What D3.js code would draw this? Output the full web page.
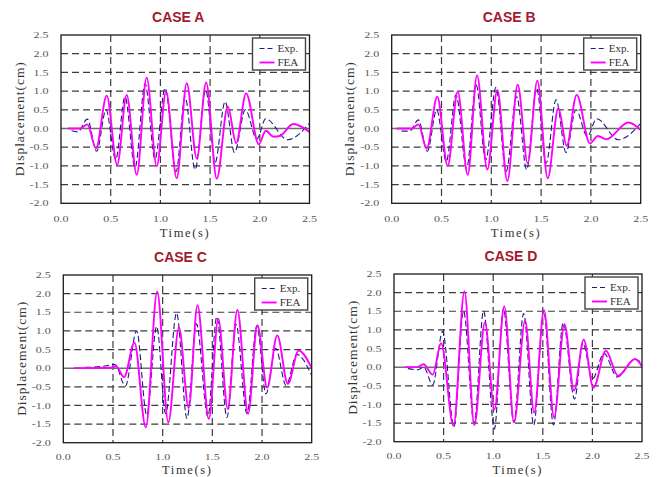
<!DOCTYPE html>
<html>
<head>
<meta charset="utf-8">
<script src="https://cdn.jsdelivr.net/npm/d3@7"></script>
<style>
  html, body { margin: 0; padding: 0; background: #fff; }
  svg { display: block; }
</style>
</head>
<body>
<svg id="chart" width="659" height="477"></svg>
<script>
// ---------------- DATA ----------------
const caseNames = ["CASE A", "CASE B", "CASE C", "CASE D"];
const seriesNames = ["Exp.", "FEA"];
const xTicks = [0.0, 0.5, 1.0, 1.5, 2.0, 2.5];
const yTicks = [2.5, 2.0, 1.5, 1.0, 0.5, 0.0, -0.5, -1.0, -1.5, -2.0];

// [time (s), displacement (cm)]
const expA = [[0.107,-0.06],[0.17,-0.09],[0.265,0.25],[0.359,-0.61],[0.453,0.5],[0.55,-0.83],[0.644,0.85],[0.745,-1.05],[0.846,1.2],[0.946,-0.82],[1.047,1.08],[1.158,-1.15],[1.248,0.85],[1.349,-1.1],[1.456,1.03],[1.55,-0.91],[1.651,0.72],[1.745,-0.64],[1.855,0.5],[1.97,-0.28],[2.06,0.26],[2.28,-0.3],[2.5,0.14]];
const feaA = [[0.07,0],[0.19,0],[0.265,0.11],[0.352,-0.53],[0.46,0.88],[0.565,-0.97],[0.661,0.9],[0.762,-1.24],[0.862,1.36],[0.963,-1.01],[1.057,0.99],[1.164,-1.33],[1.265,1.21],[1.366,-0.8],[1.46,1.23],[1.567,-1.34],[1.678,0.59],[1.762,-0.39],[1.862,0.94],[1.99,-0.42],[2.06,-0.06],[2.136,-0.22],[2.2,-0.2],[2.337,0.12],[2.5,-0.09]];
const expB = [[0.1,-0.07],[0.18,-0.07],[0.268,0.23],[0.358,-0.61],[0.452,0.5],[0.548,-0.88],[0.645,0.9],[0.753,-1.06],[0.847,1.17],[0.944,-0.84],[1.047,1.1],[1.148,-1.15],[1.255,0.85],[1.355,-1.1],[1.455,1.08],[1.55,-0.93],[1.65,0.77],[1.75,-0.64],[1.85,0.5],[1.964,-0.21],[2.058,0.26],[2.276,-0.3],[2.5,0.14]];
const feaB = [[0.05,0],[0.2,0],[0.268,0.11],[0.351,-0.54],[0.458,0.85],[0.562,-1.0],[0.663,0.99],[0.763,-1.24],[0.857,1.42],[0.96,-1.1],[1.061,1.03],[1.161,-1.41],[1.265,1.17],[1.365,-0.93],[1.462,1.28],[1.566,-1.33],[1.673,0.54],[1.757,-0.46],[1.857,0.9],[1.99,-0.4],[2.07,-0.2],[2.155,-0.29],[2.375,0.16],[2.5,-0.04]];
const expC = [[0.22,0.02],[0.4,0.05],[0.52,0.1],[0.625,-0.48],[0.738,1.0],[0.84,-1.26],[0.94,1.12],[1.03,-1.22],[1.14,1.48],[1.245,-1.35],[1.34,1.19],[1.455,-1.3],[1.545,1.38],[1.647,-1.32],[1.738,1.18],[1.848,-1.22],[1.948,1.14],[2.04,-0.69],[2.138,0.53],[2.242,-0.46],[2.35,0.37],[2.5,-0.2]];
const feaC = [[0.107,0],[0.47,0.01],[0.53,0.05],[0.612,-0.24],[0.716,0.69],[0.83,-1.59],[0.945,2.05],[1.057,-1.45],[1.164,1.09],[1.262,-1.07],[1.35,1.69],[1.465,-1.36],[1.56,1.33],[1.655,-1.09],[1.752,1.56],[1.86,-1.22],[1.954,1.15],[2.052,-0.52],[2.153,0.88],[2.26,-0.42],[2.368,0.47],[2.5,0.0]];
const expD = [[0.14,-0.04],[0.24,-0.07],[0.3,0.0],[0.39,-0.48],[0.49,0.96],[0.605,-1.6],[0.701,1.51],[0.808,-1.5],[0.903,1.51],[1.012,-1.66],[1.103,1.57],[1.208,-1.48],[1.307,1.44],[1.409,-1.55],[1.509,1.5],[1.608,-1.55],[1.706,1.2],[1.82,-0.85],[1.905,0.64],[2.0,-0.32],[2.116,0.37],[2.25,-0.26],[2.43,0.22],[2.5,0.1]];
const feaD = [[0.11,0],[0.228,0],[0.298,0.08],[0.39,-0.2],[0.475,0.64],[0.6,-1.57],[0.71,2.03],[0.81,-1.55],[0.917,1.2],[1.012,-1.14],[1.112,1.63],[1.21,-1.48],[1.322,1.25],[1.413,-1.22],[1.512,1.53],[1.614,-1.35],[1.718,1.15],[1.815,-0.63],[1.912,0.74],[2.01,-0.55],[2.136,0.44],[2.258,-0.23],[2.43,0.22],[2.5,0.02]];

const expSeries = [expA, expB, expC, expD];
const feaSeries = [feaA, feaB, feaC, feaD];

// ---------------- LAYOUT ----------------
const panels = [
  {x0: 61,    y0: 35,  x1: 309.5, y1: 203.3, tk: 16,   tl: 29},
  {x0: 391.7, y0: 35,  x1: 640.7, y1: 203.3, tk: 16,   tl: 29},
  {x0: 63.3,  y0: 275, x1: 311.7, y1: 442.7, tk: 14.5, tl: 27},
  {x0: 394,   y0: 274, x1: 642,   y1: 441.7, tk: 14.5, tl: 27.5}
];

const svg = d3.select("#chart");
const labelFont = "'Liberation Serif', serif";
const expColor = "#1c1c80";
const feaColor = "#ff00ff";

panels.forEach((p, i) => {
  const x = d3.scaleLinear().domain([0, 2.5]).range([p.x0, p.x1]);
  const y = d3.scaleLinear().domain([-2.0, 2.5]).range([p.y1, p.y0]);
  const g = svg.append("g");

  // title
  g.append("text")
    .attr("x", (p.x0 + p.x1) / 2 - 7)
    .attr("y", p.y0 - 13)
    .attr("text-anchor", "middle")
    .attr("font-family", "'Liberation Sans', Arial, sans-serif")
    .attr("font-weight", "bold")
    .attr("font-size", 14)
    .attr("fill", "#a5192d")
    .text(caseNames[i]);

  // grid: horizontal dashed (excluding borders and zero)
  g.selectAll(".hg").data(yTicks.filter(v => v !== 0 && v !== 2.5 && v !== -2.0))
    .join("line")
    .attr("x1", p.x0).attr("x2", p.x1)
    .attr("y1", d => y(d)).attr("y2", d => y(d))
    .attr("stroke", "#3c3c3c").attr("stroke-width", 1.2)
    .attr("stroke-dasharray", "7,4");
  // grid: vertical dashed
  g.selectAll(".vg").data(xTicks.filter(v => v !== 0 && v !== 2.5))
    .join("line")
    .attr("y1", p.y0).attr("y2", p.y1)
    .attr("x1", d => x(d)).attr("x2", d => x(d))
    .attr("stroke", "#3c3c3c").attr("stroke-width", 1.2)
    .attr("stroke-dasharray", "7,4");
  // zero line
  g.append("line")
    .attr("x1", p.x0).attr("x2", p.x1)
    .attr("y1", y(0)).attr("y2", y(0))
    .attr("stroke", "#6e6e6e").attr("stroke-width", 1.5);

  // clip
  const cid = "clip" + i;
  svg.append("clipPath").attr("id", cid).append("rect")
    .attr("x", p.x0).attr("y", p.y0).attr("width", p.x1 - p.x0).attr("height", p.y1 - p.y0);

  const line = d3.line().x(d => x(d[0])).y(d => y(d[1])).curve(d3.curveMonotoneX);

  g.append("path").datum(expSeries[i])
    .attr("clip-path", `url(#${cid})`)
    .attr("d", line)
    .attr("fill", "none").attr("stroke", expColor).attr("stroke-width", 1.1)
    .attr("stroke-dasharray", "6,3");
  g.append("path").datum(feaSeries[i])
    .attr("clip-path", `url(#${cid})`)
    .attr("d", line)
    .attr("fill", "none").attr("stroke", feaColor).attr("stroke-width", 1.9);

  // frame
  g.append("rect")
    .attr("x", p.x0).attr("y", p.y0).attr("width", p.x1 - p.x0).attr("height", p.y1 - p.y0)
    .attr("fill", "none").attr("stroke", "#1a1a1a").attr("stroke-width", 1.3);

  // y tick labels
  g.selectAll(".yt").data(yTicks).join("text")
    .attr("x", p.x0 - 12.5)
    .attr("y", d => y(d))
    .attr("dy", "0.35em")
    .attr("text-anchor", "end")
    .attr("font-family", labelFont)
    .attr("font-size", 9)
    .attr("fill", "#555")
    .attr("textLength", d => d < 0 ? 19 : 15)
    .attr("lengthAdjust", "spacingAndGlyphs")
    .text(d => d.toFixed(1));
  // x tick labels
  g.selectAll(".xt").data(xTicks).join("text")
    .attr("x", d => x(d))
    .attr("y", p.y1 + p.tk)
    .attr("dy", "0.35em")
    .attr("text-anchor", "middle")
    .attr("font-family", labelFont)
    .attr("font-size", 9)
    .attr("fill", "#555")
    .attr("textLength", 15)
    .attr("lengthAdjust", "spacingAndGlyphs")
    .text(d => d.toFixed(1));

  // axis titles
  g.append("text")
    .attr("transform", `translate(${p.x0 - 42},${(p.y0 + p.y1) / 2}) rotate(-90)`)
    .attr("text-anchor", "middle")
    .attr("dy", "0.35em")
    .attr("font-family", labelFont)
    .attr("font-size", 13.5)
    .attr("fill", "#333")
    .attr("textLength", 114)
    .attr("lengthAdjust", "spacing")
    .text("Displacement(cm)");
  g.append("text")
    .attr("x", (p.x0 + p.x1) / 2 - 1)
    .attr("y", p.y1 + p.tl)
    .attr("dy", "0.35em")
    .attr("text-anchor", "middle")
    .attr("font-family", labelFont)
    .attr("font-size", 12.5)
    .attr("fill", "#333")
    .attr("textLength", 49)
    .attr("lengthAdjust", "spacing")
    .text("Time(s)");

  // legend
  const lw = 53, lh = 32;
  const lx = p.x1 - 4 - lw, ly = p.y0 + 3;
  g.append("rect").attr("x", lx).attr("y", ly).attr("width", lw).attr("height", lh)
    .attr("fill", "#fff").attr("stroke", "#444").attr("stroke-width", 1.4);
  const items = [{name: seriesNames[0], color: expColor, w: 1.1, dash: "5,3"},
                 {name: seriesNames[1], color: feaColor, w: 1.9, dash: null}];
  items.forEach((it, k) => {
    const yy = ly + 10.5 + k * 14;
    g.append("line").attr("x1", lx + 7).attr("x2", lx + 22).attr("y1", yy).attr("y2", yy)
      .attr("stroke", it.color).attr("stroke-width", it.w)
      .attr("stroke-dasharray", it.dash);
    g.append("text").attr("x", lx + 25).attr("y", yy).attr("dy", "0.35em")
      .attr("font-family", labelFont).attr("font-size", 11).attr("fill", "#333")
      .text(it.name);
  });
});
</script>
</body>
</html>
